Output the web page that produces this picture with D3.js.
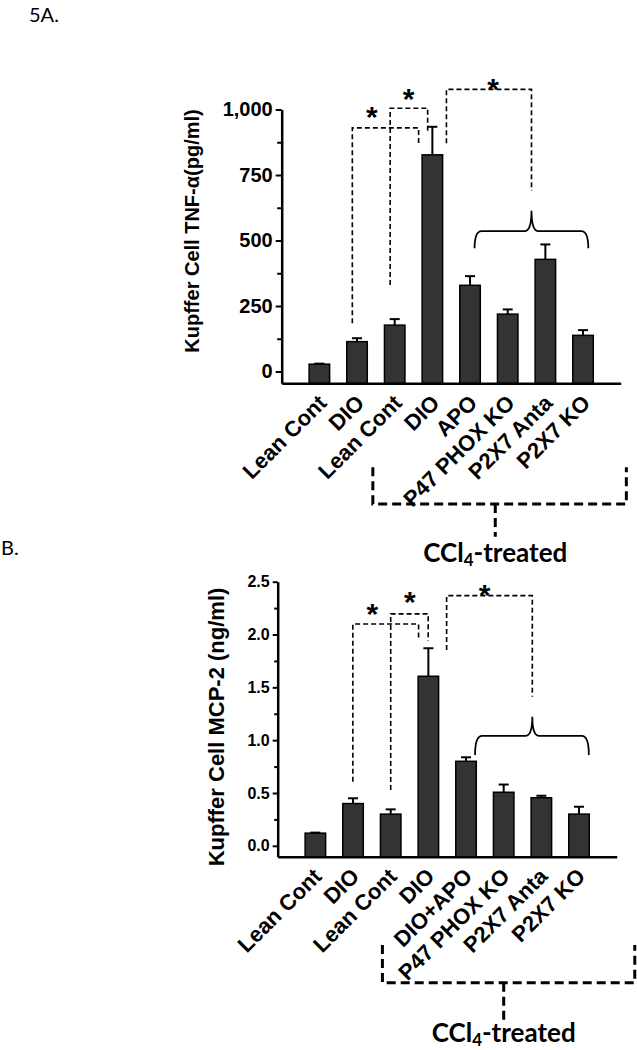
<!DOCTYPE html>
<html><head><meta charset="utf-8">
<script src="https://cdn.jsdelivr.net/npm/d3@7"></script>
<style>
html,body{margin:0;padding:0;background:#fff;}
svg{display:block;}
.ax text{font-family:"Liberation Sans",Arial,sans-serif;font-weight:bold;fill:#000;}
</style></head>
<body>
<svg id="c" width="637" height="1050"></svg>
<script>
// ---------- DATA ----------
const labelsA = ["Lean Cont","DIO","Lean Cont","DIO","APO","P47 PHOX KO","P2X7 Anta","P2X7 KO"];
const valuesA = [28, 114, 177, 827, 329, 219, 428, 138];
const errorsA = [2, 13, 23, 107, 35, 18, 57, 20];
const ticksA = [0, 250, 500, 750, 1000];
const minorTicksA = [125, 375, 625, 875];

const labelsB = ["Lean Cont","DIO","Lean Cont","DIO","DIO+APO","P47 PHOX KO","P2X7 Anta","P2X7 KO"];
const valuesB = [0.12, 0.40, 0.30, 1.605, 0.80, 0.507, 0.455, 0.30];
const errorsB = [0.005, 0.05, 0.045, 0.265, 0.038, 0.073, 0.019, 0.07];
const ticksB = [0, 0.5, 1.0, 1.5, 2.0, 2.5];
const minorTicksB = [0.25, 0.75, 1.25, 1.75, 2.25];

// significance brackets: [x-left idx, x-right idx, level, left-bottom, right-bottom]
const bracketsA = [[0.875, 2.635, 930, 184, 871],[1.88, 2.875, 1005, 330, 909],[3.373, 5.632, 1077, 871, 690]];
const starsA = [[1.39, 998],[2.37, 1068],[4.61, 1106]];
const braceA = [4.12, 7.14, 536, 470, 614, 5.632];
const bracketsB = [[0.995, 2.74, 2.10, 0.607, 1.949],[2.0, 2.995, 2.195, 0.528, 1.942],[3.485, 5.76, 2.368, 1.854, 1.412]];
const starsB = [[1.51, 2.264],[2.507, 2.375],[4.49, 2.438]];
const braceB = [4.24, 7.26, 1.04, 0.86, 1.222, 5.76];

const svg = d3.select("#c");

svg.append("text").attr("x",29).attr("y",22).text("5A.")
  .style("font-family","Lato, 'Open Sans', sans-serif").style("font-size","20px");
svg.append("text").attr("x",1).attr("y",555).text("B.")
  .style("font-family","Lato, 'Open Sans', sans-serif").style("font-size","20px");

function panel(o){
  const g = svg.append("g");
  const x = d3.scalePoint().domain(d3.range(o.labels.length)).range([o.x0, o.x1]).padding(1);
  const xi = d3.scaleLinear().domain([0, o.labels.length-1]).range([x(0), x(o.labels.length-1)]);
  const y = d3.scaleLinear().domain(o.yDomain).range([o.yBottom, o.yTop]);
  const bw = 20.5;

  // bars
  g.selectAll("rect.bar").data(o.values).join("rect")
    .attr("x",(d,i)=>x(i)-bw/2).attr("width",bw)
    .attr("y",d=>y(d)).attr("height",d=>o.yBottom - y(d))
    .attr("fill","#333").attr("stroke","#000").attr("stroke-width",1.5);
  // error bars
  const eg = g.append("g").attr("stroke","#000").attr("stroke-width",2);
  o.values.forEach((v,i)=>{
    const e = o.errors[i];
    eg.append("line").attr("x1",x(i)).attr("x2",x(i)).attr("y1",y(v)).attr("y2",y(v+e));
    eg.append("line").attr("x1",x(i)-5).attr("x2",x(i)+5).attr("y1",y(v+e)).attr("y2",y(v+e));
  });

  // y axis
  const ya = g.append("g").attr("class","ax").attr("transform",`translate(${o.x0},0)`)
    .call(d3.axisLeft(y).tickValues(o.ticks).tickFormat(o.fmt).tickSize(o.tick).tickSizeOuter(0).tickPadding(o.pad));
  ya.select(".domain").attr("stroke-width",2.5);
  ya.selectAll(".tick line").attr("stroke-width",2);
  ya.selectAll("text").style("font-size",o.tickFont+"px");
  const ym = g.append("g").attr("transform",`translate(${o.x0},0)`)
    .call(d3.axisLeft(y).tickValues(o.minor).tickFormat("").tickSize(o.tick-1.5).tickSizeOuter(0));
  ym.select(".domain").remove();
  ym.selectAll(".tick line").attr("stroke-width",2);

  // x axis
  const xa = g.append("g").attr("class","ax").attr("transform",`translate(0,${o.yBottom})`)
    .call(d3.axisBottom(x).tickFormat(i=>o.labels[i]).tickSize(0).tickSizeOuter(0));
  xa.select(".domain").attr("stroke-width",2.5);
  xa.selectAll("text")
    .attr("x",0).attr("y",0).attr("dy",0)
    .attr("transform",`translate(${o.lx},${o.ly}) rotate(-45)`)
    .style("text-anchor","end").style("font-size",o.labFont+"px");

  // y title
  g.append("text").attr("transform",`translate(${o.titleX},${o.titleY}) rotate(-90)`)
    .attr("text-anchor","middle")
    .style("font-family","'Liberation Sans',Arial,sans-serif").style("font-weight","bold")
    .style("font-size",o.titleFont+"px").text(o.title);

  // brackets
  const bg = g.append("g").attr("fill","none").attr("stroke","#000").attr("stroke-width",1.6).attr("stroke-dasharray","5,3");
  o.brackets.forEach(b=>{
    bg.append("path").attr("d",`M${xi(b[0])},${y(b[3])}V${y(b[2])}H${xi(b[1])}V${y(b[4])}`);
  });
  o.stars.forEach(s=>{
    g.append("text").attr("x",xi(s[0])).attr("y",y(s[1])+17).attr("text-anchor","middle")
      .style("font-family","'Liberation Sans',Arial,sans-serif").style("font-weight","bold")
      .style("font-size","30px").text("*");
  });
  // curly brace
  const [b0,b1,bh,be,bt,bm] = o.brace;
  const X0=xi(b0), X1=xi(b1), XM=xi(bm), YH=y(bh), YE=y(be), YT=y(bt);
  g.append("path").attr("fill","none").attr("stroke","#000").attr("stroke-width",1.8)
    .attr("d",`M${X0},${YE}Q${X0},${YH} ${X0+7},${YH}H${XM-7}Q${XM},${YH} ${XM},${YT}Q${XM},${YH} ${XM+7},${YH}H${X1-7}Q${X1},${YH} ${X1},${YE}`);

  // CCl4 group bracket
  const c = o.ccl;
  g.append("path").attr("fill","none").attr("stroke","#000").attr("stroke-width",3).attr("stroke-dasharray","9,5")
    .attr("d",`M${xi(c[0])},${c[2]}V${c[3]}H${xi(c[1])}V${c[2]}`);
  g.append("path").attr("fill","none").attr("stroke","#000").attr("stroke-width",3).attr("stroke-dasharray","9,5")
    .attr("d",`M${xi(c[4])},${c[3]}V${c[5]}`);
  const t = g.append("text").attr("x",xi(c[4])).attr("y",c[6]).attr("text-anchor","middle")
    .style("font-family","Lato,'Open Sans',sans-serif").style("font-weight","bold").style("font-size",o.cclFont+"px");
  t.append("tspan").text("CCl");
  t.append("tspan").attr("baseline-shift","-25%").style("font-size",(o.cclFont*0.65)+"px").text("4");
  t.append("tspan").text("-treated");
}

panel({labels:labelsA, values:valuesA, errors:errorsA, ticks:ticksA, minor:minorTicksA,
  fmt:d3.format(","), x0:281.7, x1:620.7, yDomain:[-45,1000], yBottom:383.3, yTop:109.5,
  tick:6, pad:3, tickFont:20, labFont:22, lx:8, ly:21,
  title:"Kupffer Cell TNF-α(pg/ml)", titleX:199, titleY:231, titleFont:20,
  brackets:bracketsA, stars:starsA, brace:braceA,
  ccl:[1.42, 8.15, 467.3, 504, 4.67, 536.7, 562], cclFont:26});

panel({labels:labelsB, values:valuesB, errors:errorsB, ticks:ticksB, minor:minorTicksB,
  fmt:d3.format(".1f"), x0:277.7, x1:616.7, yDomain:[-0.103,2.5], yBottom:856.7, yTop:581.7,
  tick:5, pad:3, tickFont:16, labFont:22, lx:7, ly:21,
  title:"Kupffer Cell MCP-2 (ng/ml)", titleX:224, titleY:727, titleFont:22,
  brackets:bracketsB, stars:starsB, brace:braceB,
  ccl:[1.78, 8.48, 945, 982.7, 5.0, 1020, 1041.7], cclFont:26});
</script>
</body></html>
